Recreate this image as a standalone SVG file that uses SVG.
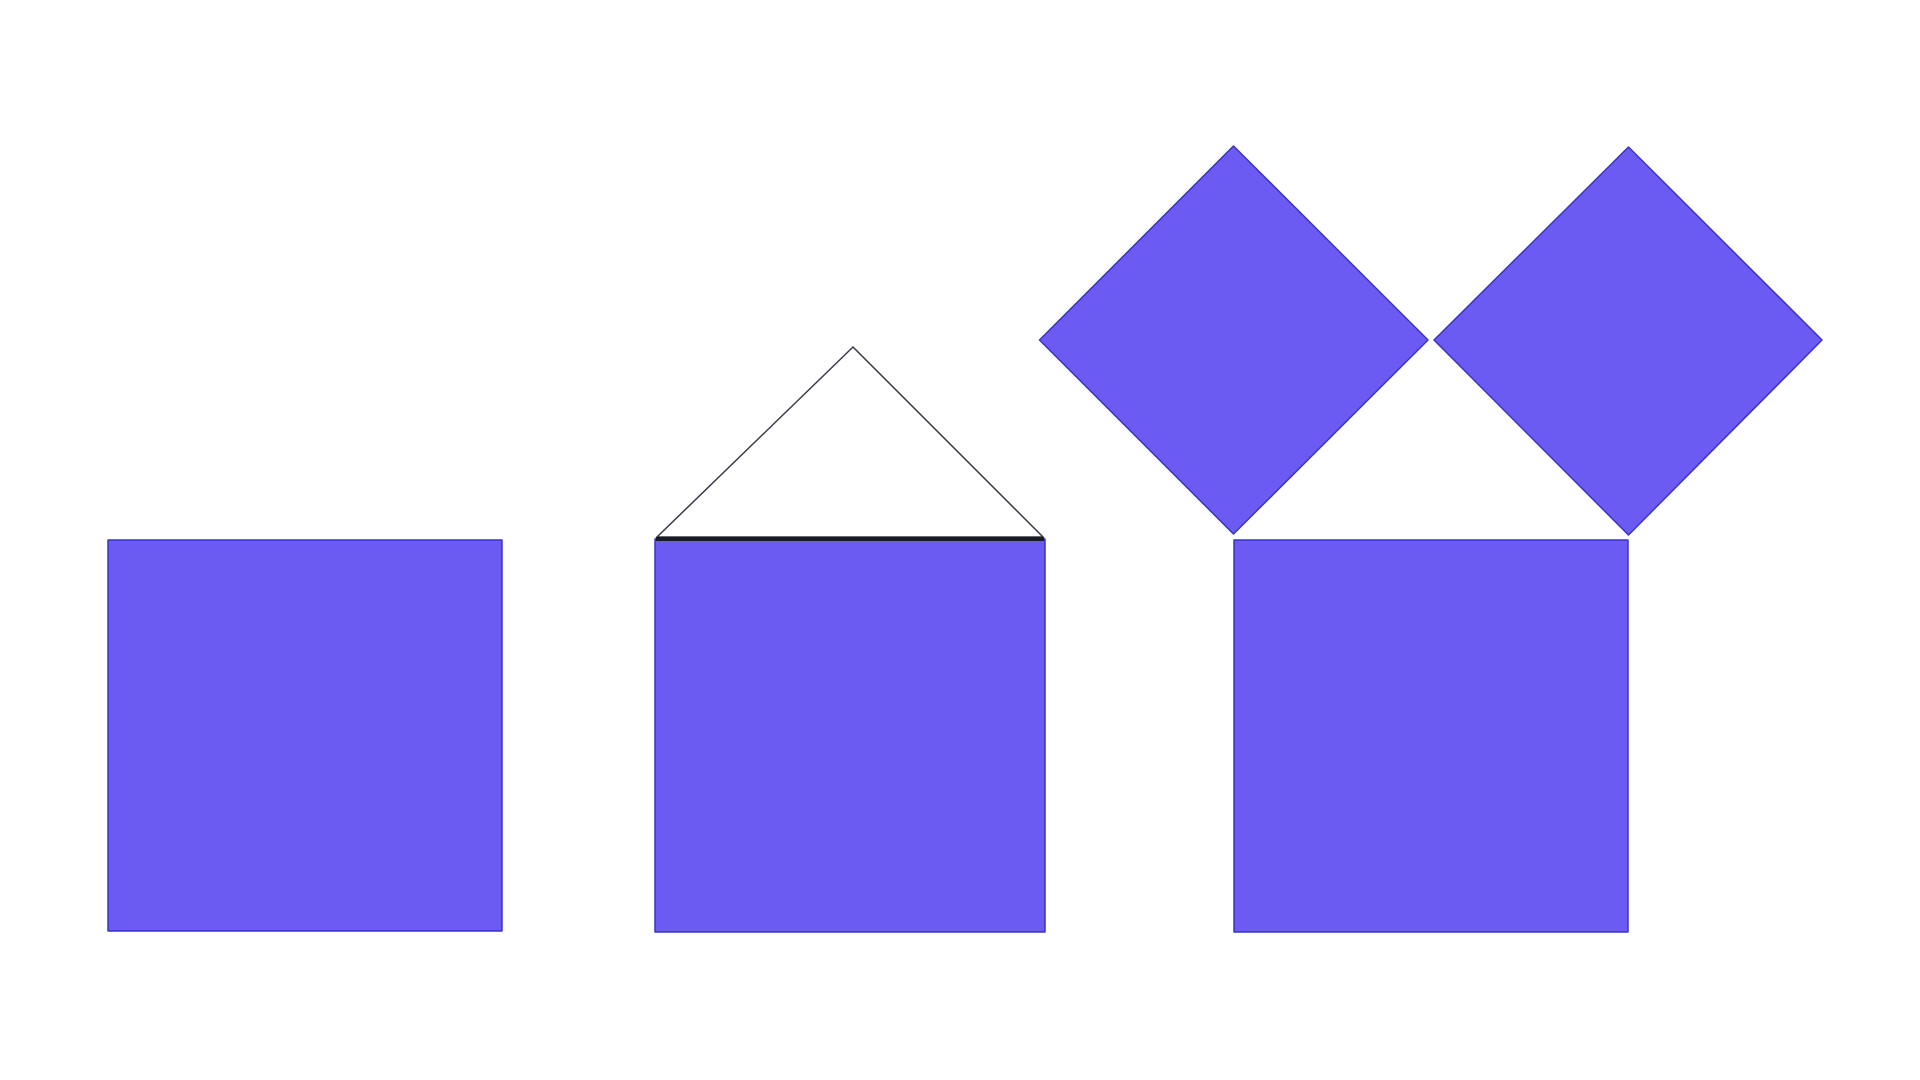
<svg xmlns="http://www.w3.org/2000/svg" width="1920" height="1080" viewBox="0 0 1920 1080">
  <style>
    .block { fill: #6b5bf2; stroke: #3a35c4; stroke-width: 1.5; stroke-linejoin: round; }
    .roof { fill: #ffffff; stroke: #3a3a4a; stroke-width: 1.5; stroke-linejoin: miter; }
    .roofbase { stroke: #1a1a22; stroke-width: 4; }
  </style>
  <rect x="0" y="0" width="1920" height="1080" fill="#ffffff"/>
  <g id="square-1">
    <rect class="block" x="108" y="540" width="394" height="391"/>
  </g>
  <g id="roof-triangle">
    <polygon class="roof" points="853,347 1043,537 657,537"/>
  </g>
  <g id="square-2">
    <rect class="block" x="655" y="539" width="390" height="393"/>
    <line class="roofbase" x1="656" y1="539" x2="1044" y2="539"/>
  </g>
  <g id="diamond-1">
    <polygon class="block" points="1233.5,146 1428,340 1233.5,534 1039.5,340"/>
  </g>
  <g id="diamond-2">
    <polygon class="block" points="1628.5,147 1822,340 1628.5,535 1434,340"/>
  </g>
  <g id="square-3">
    <rect class="block" x="1234" y="540" width="394" height="392"/>
  </g>
  <g id="connectors"></g>
</svg>
